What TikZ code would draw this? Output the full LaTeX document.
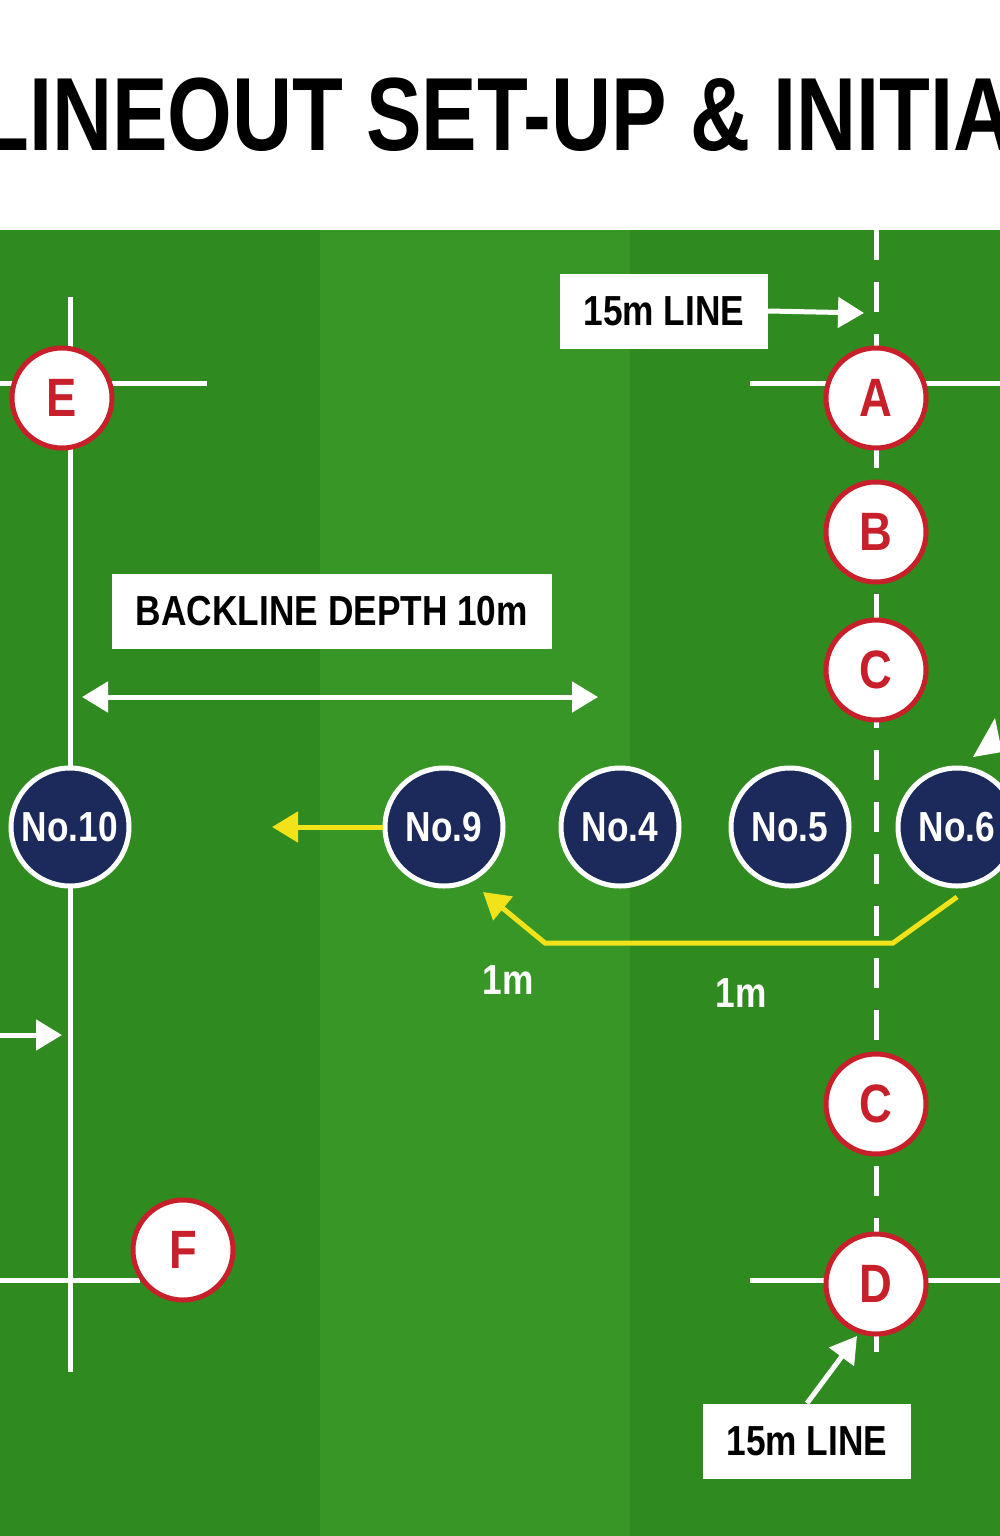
\documentclass[tikz,border=0pt]{standalone}
\usepackage{fontspec}
\setmainfont{Liberation Sans}
\usetikzlibrary{arrows.meta}
\definecolor{fieldA}{HTML}{2F8A1F}
\definecolor{fieldB}{HTML}{389626}
\definecolor{navy}{HTML}{1B2A5A}
\definecolor{redc}{HTML}{C8202A}
\definecolor{yel}{HTML}{F2E21A}
\newcommand{\cnd}[1]{\scalebox{0.84}[1]{#1}}
\tikzset{
 redp/.style={circle,draw=redc,line width=5pt,fill=white,minimum size=100pt,inner sep=0pt,text=redc,font=\bfseries\fontsize{54}{54}\selectfont},
 bluep/.style={circle,draw=white,line width=5pt,fill=navy,minimum size=118pt,inner sep=0pt,text=white,font=\bfseries\fontsize{42}{42}\selectfont},
 lbl/.style={fill=white,inner sep=0pt,text=black,font=\bfseries\fontsize{42}{42}\selectfont},
 wl/.style={white,line width=5pt},
 warr/.style={white,line width=5pt,-{Triangle[length=26pt,width=30pt]}},
 yarr/.style={yel,line width=5pt,-{Triangle[length=26pt,width=30pt]}}
}
\begin{document}
\begin{tikzpicture}[x=1pt,y=-1pt]
\useasboundingbox (0,0) rectangle (1000,1536);
\clip (0,0) rectangle (1000,1536);
\fill[white] (0,0) rectangle (1000,230);
\node[anchor=base west,inner sep=0pt,font=\bfseries\fontsize{104}{104}\selectfont] (title) at (-22,150) {\scalebox{0.8}[1]{LINEOUT SET-UP \& INITIAL}};
\fill[fieldA] (0,230) rectangle (1000,1536);
\fill[fieldB] (320,230) rectangle (630,1536);
% lines
\draw[wl] (70,297) -- (70,1372);
\draw[wl] (0,383) -- (207,383);
\draw[wl] (0,1280) -- (140,1280);
\draw[wl,dash pattern=on 30pt off 22pt] (876,230) -- (876,1372);
\draw[wl] (750,383) -- (1000,383);
\draw[wl] (750,1280) -- (1000,1280);
% labels
\node[lbl,minimum width=208pt,minimum height=75pt] (l1) at (664,311) {\cnd{15m LINE}};
\coordinate (l1e) at (864,313);
\draw[warr] (l1.east) -- (l1e);
\node[lbl,minimum width=440pt,minimum height=75pt] (bd) at (332,611) {\cnd{BACKLINE DEPTH 10m}};
\coordinate (d1) at (82,697); \coordinate (d2) at (598,697);
\draw[white,line width=5pt,{Triangle[length=26pt,width=30pt]}-{Triangle[length=26pt,width=30pt]}] (d1) -- (d2);
\node[lbl,minimum width=208pt,minimum height=75pt] (l2) at (807,1441) {\cnd{15m LINE}};
\coordinate (l2e) at (857,1336);
\draw[warr] (l2.north) -- (l2e);
% red players
\node[redp] (E) at (62,398) {\cnd{E}};
\node[redp] (A) at (876,398) {\cnd{A}};
\node[redp] (B) at (876,532) {\cnd{B}};
\node[redp] (C1) at (876,670) {\cnd{C}};
\node[redp] (C2) at (876,1104) {\cnd{C}};
\node[redp] (D) at (876,1284) {\cnd{D}};
\node[redp] (F) at (183,1250) {\cnd{F}};
% blue players
\node[bluep] (n10) at (70,827) {\cnd{No.10}};
\node[bluep] (n9) at (444,827) {\cnd{No.9}};
\node[bluep] (n4) at (620,827) {\cnd{No.4}};
\node[bluep] (n5) at (790,827) {\cnd{No.5}};
\node[bluep] (n6) at (957,827) {\cnd{No.6}};
% yellow
\coordinate (y1) at (272,827);
\draw[yarr] (n9.west) -- (y1);
\coordinate (p1) at (957,897); \coordinate (p2) at (893,943); \coordinate (p3) at (545,943); \coordinate (p4) at (483,892);
\draw[yarr] (p1) -- (p2) -- (p3) -- (p4);
\node[text=white,font=\bfseries\fontsize{42}{42}\selectfont] (m1) at (508,980) {\cnd{1m}};
\node[text=white,font=\bfseries\fontsize{42}{42}\selectfont] (m2) at (741,993) {\cnd{1m}};
% misc arrows
\coordinate (a1) at (0,1035); \coordinate (a2) at (62,1035);
\draw[warr] (a1) -- (a2);
\fill[white] (995,718) -- (973,757) -- (1002,752) -- cycle;
\end{tikzpicture}
\end{document}
